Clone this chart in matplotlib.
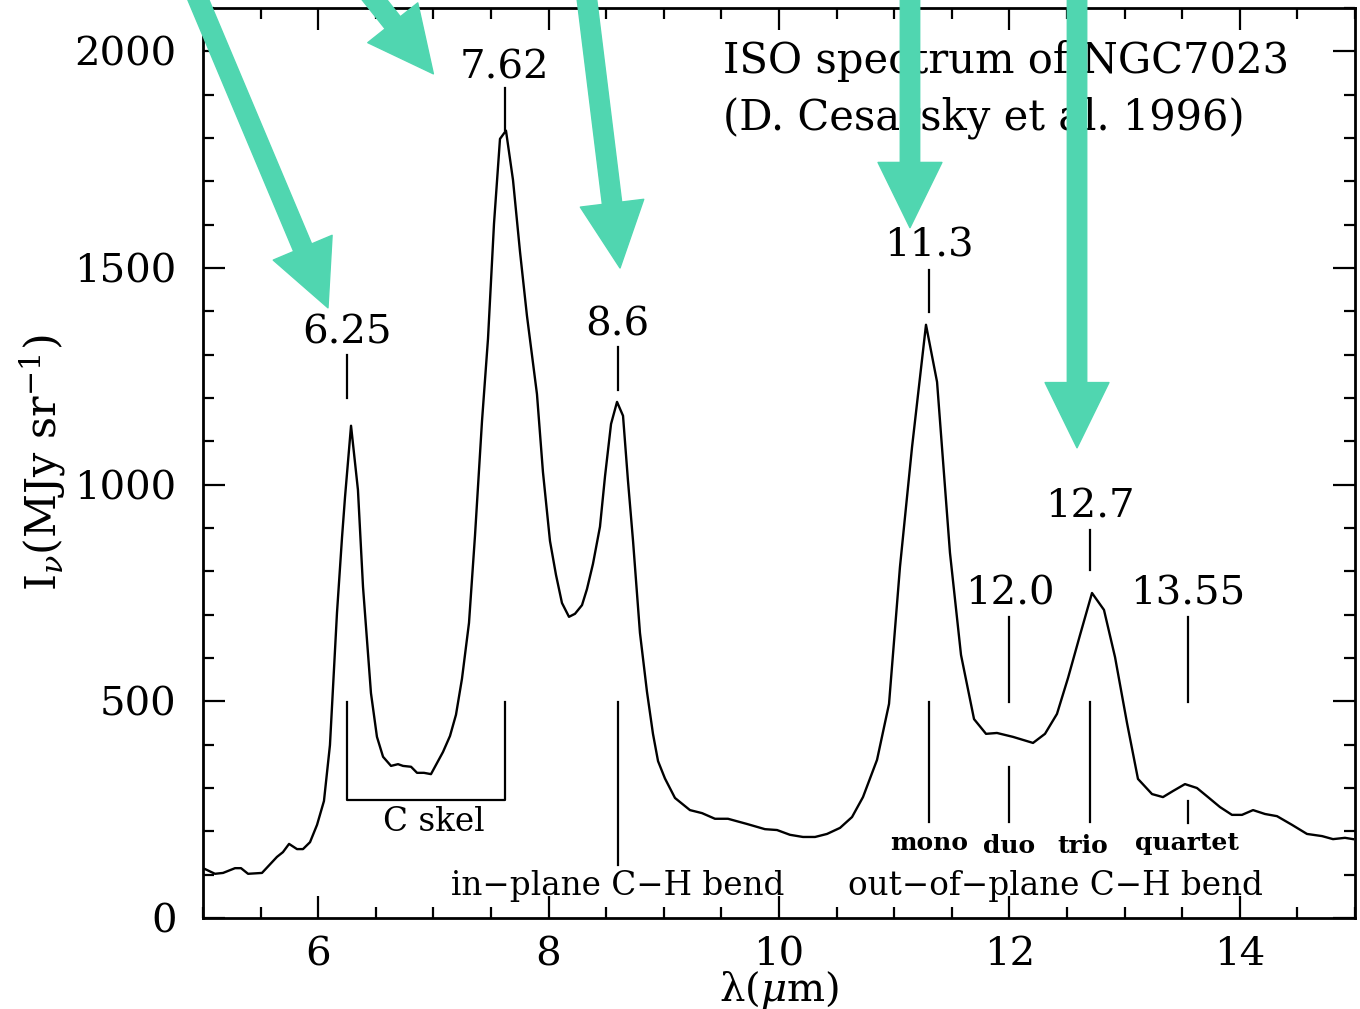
import matplotlib
matplotlib.use("Agg")
import matplotlib.pyplot as plt
from matplotlib.ticker import MultipleLocator

plt.rcParams['font.family'] = ['DejaVu Serif']
plt.rcParams['mathtext.fontset'] = 'dejavuserif'

# ---- spectrum (wavelength in micron, intensity in MJy/sr) ----
wavelength = [5.017, 5.104, 5.174, 5.278, 5.330, 5.391, 5.512, 5.642, 5.694, 5.747,
              5.816, 5.868, 5.929, 5.990, 6.050, 6.102, 6.163, 6.207, 6.233, 6.285,
              6.345, 6.389, 6.458, 6.510, 6.563, 6.632, 6.693, 6.736, 6.806, 6.858,
              6.918, 6.979, 7.083, 7.144, 7.196, 7.248, 7.309, 7.361, 7.422, 7.474,
              7.526, 7.578, 7.630, 7.691, 7.752, 7.812, 7.899, 7.951, 8.012, 8.064,
              8.116, 8.177, 8.229, 8.290, 8.333, 8.385, 8.446, 8.490, 8.542, 8.594,
              8.646, 8.689, 8.733, 8.793, 8.854, 8.906, 8.950, 9.010, 9.097, 9.227,
              9.332, 9.444, 9.557, 9.722, 9.878, 9.983, 10.095, 10.208, 10.313, 10.417,
              10.530, 10.634, 10.729, 10.851, 10.955, 11.050, 11.155, 11.276, 11.372, 11.484,
              11.580, 11.693, 11.797, 11.892, 12.031, 12.205, 12.309, 12.413, 12.509, 12.613,
              12.717, 12.821, 12.917, 13.021, 13.116, 13.238, 13.333, 13.420, 13.524, 13.628,
              13.724, 13.828, 13.932, 14.019, 14.115, 14.219, 14.323, 14.453, 14.583, 14.714,
              14.809, 14.913, 14.983]
intensity = [113, 102, 104, 115, 115, 102, 104, 141, 152, 171,
             159, 159, 175, 215, 270, 399, 704, 879, 972, 1136,
             988, 764, 519, 418, 372, 351, 355, 351, 349, 335,
             335, 332, 383, 420, 469, 552, 681, 882, 1147, 1337,
             1602, 1798, 1817, 1703, 1537, 1390, 1209, 1029, 870, 792,
             727, 695, 702, 722, 759, 817, 903, 1020, 1140, 1191,
             1159, 1009, 870, 658, 522, 425, 362, 322, 277, 249,
             242, 229, 229, 217, 205, 203, 192, 187, 187, 194,
             208, 233, 279, 365, 494, 810, 1087, 1369, 1237, 843,
             607, 459, 425, 427, 418, 404, 425, 471, 554, 653,
             750, 711, 602, 450, 321, 286, 279, 293, 309, 300,
             279, 256, 238, 238, 249, 240, 235, 215, 194, 189,
             182, 185, 182]

# ---- band labels ----
band_pos = [6.25, 7.62, 8.6, 11.3, 12.7, 12.0, 13.55]
band_text = ["6.25", "7.62", "8.6", "11.3", "12.7", "12.0", "13.55"]
band_label_y = [1350, 1962, 1369, 1551, 949, 748, 748]
band_line_lo = [1200, 1819, 1219, 1399, 803, 499, 499]
band_line_hi = [1300, 1916, 1318, 1496, 896, 695, 695]

# lower markers
cskel_range = [6.25, 7.62]
cskel_y = [272, 499]
inplane_x = 8.6
inplane_line = [122, 499]
oop_pos = [11.3, 12.0, 12.7, 13.55]
oop_names = ["mono", "duo", "trio", "quartet"]
oop_line_lo = [222, 222, 222, 220]
oop_line_hi = [499, 349, 499, 270]
oop_name_x = [11.30, 12.0, 12.64, 13.54]
oop_name_y = [173, 166, 166, 173]

# highlight arrows: (tail_x, tail_y) -> (tip_x, tip_y)
arrow_tail_x = [4.847, 6.276, 8.30, 11.137, 12.587]
arrow_tail_y = [2190, 2190, 2190, 2190, 2190]
arrow_tip_x = [6.085, 7.0, 8.62, 11.137, 12.587]
arrow_tip_y = [1408, 1948, 1500, 1593, 1085]

green = "#50D6B0"

fig = plt.figure(figsize=(13.6, 10.09), dpi=100)
ax = fig.add_axes([203/1360, 1-918/1009, 1152/1360, 910/1009])

ax.plot(wavelength, intensity, color='black', lw=1.7)
ax.set_xlim(5, 15)
ax.set_ylim(0, 2100)

ax.xaxis.set_major_locator(MultipleLocator(2))
ax.xaxis.set_minor_locator(MultipleLocator(0.5))
ax.yaxis.set_major_locator(MultipleLocator(500))
ax.yaxis.set_minor_locator(MultipleLocator(100))
ax.tick_params(which='both', direction='in', top=True, right=True, width=1.6)
ax.tick_params(which='major', length=15.5)
ax.tick_params(which='minor', length=8)
ax.tick_params(axis='both', labelsize=29)
ax.tick_params(axis='x', pad=13)
ax.tick_params(axis='y', pad=19)
for s in ax.spines.values():
    s.set_linewidth(2.0)

ax.set_xlabel('λ($\\mu$m)', fontsize=29)
ax.xaxis.set_label_coords(0.5, -0.056)
ax.set_ylabel('I$_\\nu$(MJy sr$^{-1}$)', fontsize=31)
ax.yaxis.set_label_coords(-0.117, 0.5)

lw_ann = 1.6
for x, t, ly, lo, hi in zip(band_pos, band_text, band_label_y, band_line_lo, band_line_hi):
    ax.text(x, ly, t, ha='center', va='center', fontsize=29)
    ax.plot([x, x], [lo, hi], color='black', lw=lw_ann)

# C skel bracket
ax.plot([cskel_range[0], cskel_range[0], cskel_range[1], cskel_range[1]],
        [cskel_y[1], cskel_y[0], cskel_y[0], cskel_y[1]], color='black', lw=lw_ann)
ax.text(7.0, 222, "C skel", ha='center', va='center', fontsize=23.5)

ax.plot([inplane_x, inplane_x], inplane_line, color='black', lw=lw_ann)
ax.text(8.6, 74, "in−plane C−H bend", ha='center', va='center', fontsize=23.5)

for x, lo, hi in zip(oop_pos, oop_line_lo, oop_line_hi):
    ax.plot([x, x], [lo, hi], color='black', lw=lw_ann)
for x, y, n in zip(oop_name_x, oop_name_y, oop_names):
    ax.text(x, y, n, ha='center', va='center', fontsize=18, fontweight='bold')
ax.text(12.4, 74, "out−of−plane C−H bend", ha='center', va='center', fontsize=23.5)

ax.text(9.51, 1978, "ISO spectrum of NGC7023", ha='left', va='center', fontsize=30)
ax.text(9.51, 1847, "(D. Cesarsky et al. 1996)", ha='left', va='center', fontsize=30)

for tx, ty, hx, hy in zip(arrow_tail_x, arrow_tail_y, arrow_tip_x, arrow_tip_y):
    ax.annotate('', xy=(hx, hy), xytext=(tx, ty), annotation_clip=False,
                arrowprops=dict(arrowstyle='simple,head_length=4.7,head_width=4.6,tail_width=1.4',
                                mutation_scale=10, color=green, shrinkA=0, shrinkB=0,
                                clip_on=False), zorder=5)

fig.savefig('out.png', dpi=100)
